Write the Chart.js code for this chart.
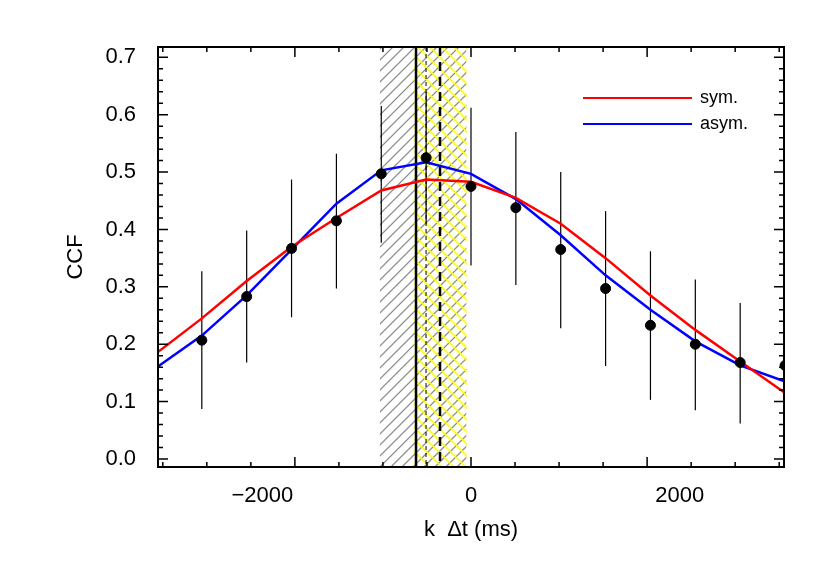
<!DOCTYPE html>
<html><head><meta charset="utf-8">
<script src="https://cdn.jsdelivr.net/npm/chart.js@4"></script>
<style>body{margin:0;background:#fff}#w{width:830px;height:567px}</style>
</head><body><div id="w"><canvas id="c"></canvas></div>
<script>
const lagX = [-2580,-2150,-1720,-1290,-860,-430,0,430,860,1290,1720,2150,2580,3010];
const ccf = [0.207,0.283,0.367,0.415,0.497,0.525,0.475,0.438,0.365,0.297,0.233,0.200,0.168,0.163];
const errHi = [0.327,0.398,0.487,0.532,0.615,0.64,0.612,0.57,0.50,0.432,0.362,0.313,0.272,0.20];
const errLo = [0.087,0.168,0.247,0.297,0.377,0.41,0.337,0.303,0.228,0.162,0.103,0.085,0.062,0.13];
const curveX = [-3010,-2580,-2150,-1720,-1290,-860,-430,0,430,860,1290,1720,2150,2580,3010];
const symY = [0.185,0.245,0.31,0.37,0.42,0.468,0.487,0.483,0.455,0.41,0.35,0.285,0.225,0.17,0.115];
const asymY = [0.16,0.215,0.285,0.365,0.445,0.503,0.517,0.497,0.453,0.39,0.32,0.26,0.205,0.163,0.135];
const greyBand = [-873,-45];
const yellowBand = [-547,-40];
const solidLag = -527, dashLag = -297, thinDashLag = -431;
const xTickLabels = [-2000,0,2000];
const legendNames = ['sym.','asym.'];
const F = '"Liberation Sans", Arial, sans-serif';

function hatch(ctx,x0,x1,y0,y1,color,dir,lw,step){
  ctx.save();ctx.beginPath();ctx.rect(x0,y0,x1-x0,y1-y0);ctx.clip();
  ctx.strokeStyle=color;ctx.lineWidth=lw;ctx.beginPath();
  const h=y1-y0;
  for(let s=x0-h-20;s<x1+h+20;s+=step){
    if(dir>0){ctx.moveTo(s,y1);ctx.lineTo(s+h,y0);}else{ctx.moveTo(s,y0);ctx.lineTo(s+h,y1);}
  }
  ctx.stroke();ctx.restore();
}
const plug={id:'p',
 beforeDatasetsDraw(ch){
  const {ctx,chartArea:a,scales:{x,y}}=ch;
  hatch(ctx,x.getPixelForValue(greyBand[0]),x.getPixelForValue(greyBand[1]),a.top,a.bottom,'#8c8c8c',1,1.2,11);
  hatch(ctx,x.getPixelForValue(yellowBand[0]),x.getPixelForValue(yellowBand[1]),a.top,a.bottom,'#ffff00',-1,1.5,12);
  ctx.save();ctx.strokeStyle='#000';
  ctx.lineWidth=2.5;ctx.beginPath();let p=x.getPixelForValue(solidLag);ctx.moveTo(p,a.top);ctx.lineTo(p,a.bottom);ctx.stroke();
  ctx.setLineDash([9,6]);ctx.beginPath();p=x.getPixelForValue(dashLag);ctx.moveTo(p,a.top);ctx.lineTo(p,a.bottom);ctx.stroke();
  ctx.lineWidth=1;ctx.setLineDash([4,3]);ctx.beginPath();p=x.getPixelForValue(thinDashLag);ctx.moveTo(p,a.top);ctx.lineTo(p,a.bottom);ctx.stroke();
  ctx.setLineDash([]);ctx.lineWidth=1.2;
  ctx.beginPath();ctx.rect(a.left,a.top,a.right-a.left,a.bottom-a.top);ctx.clip();
  lagX.forEach((v,i)=>{const px=x.getPixelForValue(v);ctx.beginPath();ctx.moveTo(px,y.getPixelForValue(errHi[i]));ctx.lineTo(px,y.getPixelForValue(errLo[i]));ctx.stroke();});
  ctx.restore();
 },
 afterDraw(ch){
  const {ctx,chartArea:a,scales:{x,y}}=ch;
  ctx.save();ctx.strokeStyle='#000';ctx.lineWidth=2;
  ctx.strokeRect(a.left,a.top,a.right-a.left,a.bottom-a.top);
  ctx.lineWidth=1.5;ctx.beginPath();
  for(let k=-8;k<=8;k++){const v=k*422;if(v<x.min||v>x.max)continue;const px=x.getPixelForValue(v);const L=(k%4===0)?10:5;
   ctx.moveTo(px,a.bottom);ctx.lineTo(px,a.bottom-L);ctx.moveTo(px,a.top);ctx.lineTo(px,a.top+L);}
  for(let k=0;k<=35;k++){const v=k*0.02;const py=y.getPixelForValue(v);const L=(k%5===0)?10:5;
   ctx.moveTo(a.left,py);ctx.lineTo(a.left+L,py);ctx.moveTo(a.right,py);ctx.lineTo(a.right-L,py);}
  ctx.stroke();
  const cols=['#ff0000','#0000ff'];
  ctx.font='18px '+F;ctx.textBaseline='middle';ctx.fillStyle='#000';
  legendNames.forEach((n,i)=>{const yy=98+i*26;ctx.strokeStyle=cols[i];ctx.lineWidth=2;ctx.beginPath();ctx.moveTo(583,yy);ctx.lineTo(692,yy);ctx.stroke();
   ctx.fillText(n,700,yy);});
  ctx.font='22px '+F;ctx.textAlign='center';
  ctx.fillText('k  \u0394t (ms)',(a.left+a.right)/2,530);
  ctx.translate(76,(a.top+a.bottom)/2);ctx.rotate(-Math.PI/2);ctx.fillText('CCF',0,0);
  ctx.restore();
 }};
new Chart(document.getElementById('c'),{
 type:'scatter',
 data:{datasets:[
  {data:lagX.map((v,i)=>({x:v,y:ccf[i]})),backgroundColor:'#000',borderColor:'#000',pointRadius:5,order:0},
  {type:'line',data:curveX.map((v,i)=>({x:v,y:symY[i]})),borderColor:'#ff0000',borderWidth:2.5,pointRadius:0,tension:0,order:1},
  {type:'line',data:curveX.map((v,i)=>({x:v,y:asymY[i]})),borderColor:'#0000ff',borderWidth:2.5,pointRadius:0,tension:0,order:1}
 ]},
 options:{responsive:true,maintainAspectRatio:false,animation:false,
  layout:{padding:{top:47,right:46,left:0,bottom:0}},
  plugins:{legend:{display:false},tooltip:{enabled:false}},
  scales:{
   x:{type:'linear',min:-3000,max:3000,afterFit(s){s.height=100;},
    afterBuildTicks(s){s.ticks=xTickLabels.map(v=>({value:v}));},
    grid:{display:false},border:{display:false},
    ticks:{color:'#000',font:{size:22,family:F},padding:8,maxRotation:0,callback:v=>String(v).replace('-','\u2212')},
    title:{display:false}},
   y:{min:-0.014,max:0.718,afterFit(s){s.width=158;},
    afterBuildTicks(s){s.ticks=[0,1,2,3,4,5,6,7].map(k=>({value:k/10}));},
    grid:{display:false},border:{display:false},
    ticks:{color:'#000',font:{size:22,family:F},padding:14,callback:v=>v.toFixed(1)},
    title:{display:false}}
  }}
 ,plugins:[plug]});
</script></body></html>
